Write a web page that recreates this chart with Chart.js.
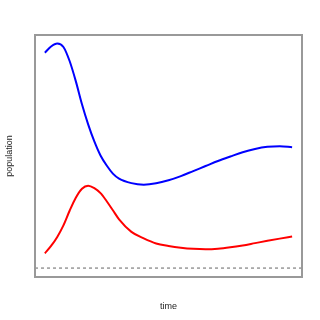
<!DOCTYPE html>
<html>
<head>
<meta charset="utf-8">
<script src="https://cdn.jsdelivr.net/npm/chart.js@4/dist/chart.umd.min.js"></script>
<style>
  html, body { margin: 0; padding: 0; background: #fff; }
  #wrap { width: 320px; height: 320px; }
</style>
</head>
<body>
<div id="wrap"><canvas id="grafica_poblacion" width="320" height="320"></canvas></div>
<script>
// tiempo y series
var tiempo = [0, 2.5, 5, 7.5, 10, 12.5, 15, 17.5, 20, 22.5, 25, 27.5, 30, 35, 40, 45, 50, 55, 60, 65, 70, 75, 80, 85, 90, 95, 100];
var azul   = [214.3, 220.5, 223.5, 220, 206, 186, 163, 143, 126, 112, 102, 94, 89, 84.5, 83, 84.3, 87.3, 91.5, 96.5, 101.5, 106.5, 111, 115.3, 118.5, 120.6, 121.3, 120.3];
var rojo   = [14.7, 22, 31, 42.5, 57, 70, 79, 82, 79.5, 74.5, 66.5, 57.5, 48.5, 36, 29.5, 24.5, 22, 20.2, 19.1, 18.7, 19.2, 20.6, 22.5, 24.8, 27.1, 29.3, 31.3];
var nivelBase = [0, 0];
var tiempoBase = [-4, 104];

function puntos(xs, ys){
    var arr = new Array();
    xs.forEach(function(x, i){
        arr.push({x: x, y: ys[i]});
    });
    return arr;
}

// caja alrededor del area de grafica
var cajaPlugin = {
    id: 'caja',
    afterDraw: function(chart){
        var a = chart.chartArea;
        var ctx = chart.ctx;
        ctx.save();
        ctx.strokeStyle = '#999';
        ctx.lineWidth = 2;
        ctx.strokeRect(a.left, a.top, a.right - a.left, a.bottom - a.top);
        ctx.restore();
    }
};

var canvas = document.getElementById("grafica_poblacion");

var chart = new Chart(canvas, {
    type: 'line',
    data: {
        datasets: [{
            data: puntos(tiempo, azul),
            borderColor: '#0000ff',
            borderWidth: 2,
            pointRadius: 0,
            cubicInterpolationMode: 'monotone',
            fill: false
        }, {
            data: puntos(tiempo, rojo),
            borderColor: '#ff0000',
            borderWidth: 2,
            pointRadius: 0,
            cubicInterpolationMode: 'monotone',
            fill: false
        }, {
            data: puntos(tiempoBase, nivelBase),
            borderColor: '#666',
            borderWidth: 1,
            borderDash: [3, 3],
            pointRadius: 0,
            fill: false
        }]
    },
    options: {
        responsive: false,
        animation: false,
        layout: { padding: { top: 35, right: 18, left: 0, bottom: 0 } },
        plugins: {
            legend: { display: false },
            tooltip: { enabled: false }
        },
        scales: {
            x: {
                type: 'linear',
                min: -4,
                max: 104,
                grid: { display: false, drawTicks: false },
                border: { display: false },
                ticks: { display: false },
                title: {
                    display: true,
                    text: 'time',
                    color: '#222',
                    font: { family: 'Liberation Sans', size: 9 },
                    padding: { top: 24.6, bottom: 7.6 }
                }
            },
            y: {
                min: -8.9,
                max: 231.9,
                grid: { display: false, drawTicks: false },
                border: { display: false },
                ticks: { display: false },
                title: {
                    display: true,
                    text: 'population',
                    color: '#222',
                    font: { family: 'Liberation Sans', size: 9 },
                    padding: { top: 4.6, bottom: 19.6 }
                }
            }
        }
    },
    plugins: [cajaPlugin]
});
</script>
</body>
</html>
